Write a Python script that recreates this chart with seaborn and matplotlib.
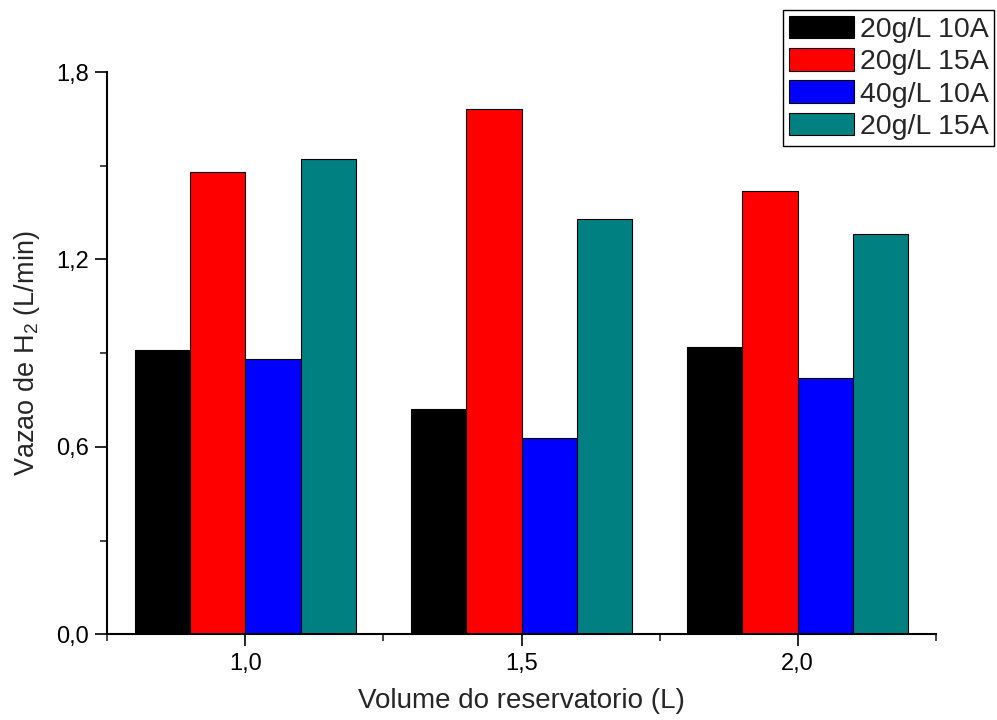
import matplotlib
matplotlib.use("Agg")
import matplotlib.pyplot as plt
import seaborn as sns
import pandas as pd
from matplotlib.ticker import FixedLocator

# ---- data ----
volumes = [1.0, 1.5, 2.0]
series_labels = ["20g/L 10A", "20g/L 15A", "40g/L 10A", "20g/L 15A"]
series_colors = ["#000000", "#ff0000", "#0000ff", "#008080"]
vals_s1 = [0.91, 0.72, 0.92]
vals_s2 = [1.48, 1.68, 1.42]
vals_s3 = [0.88, 0.63, 0.82]
vals_s4 = [1.52, 1.33, 1.28]
x_ticks = [1.0, 1.5, 2.0]
x_tick_labels = ["1,0", "1,5", "2,0"]
x_minor = [0.75, 1.25, 1.75, 2.25]
y_ticks = [0.0, 0.6, 1.2, 1.8]
y_tick_labels = ["0,0", "0,6", "1,2", "1,8"]
y_minor = [0.3, 0.9, 1.5]

sns.set_style("ticks")
plt.rcParams['font.family'] = ['Liberation Sans', 'DejaVu Sans']
plt.rcParams['mathtext.fontset'] = 'custom'
plt.rcParams['mathtext.rm'] = 'Liberation Sans'

hue_keys = [f"s{i}" for i in range(len(series_labels))]
all_vals = [vals_s1, vals_s2, vals_s3, vals_s4]
rows = []
for key, vals in zip(hue_keys, all_vals):
    for v, y in zip(volumes, vals):
        rows.append(dict(volume=v, value=y, series=key))
df = pd.DataFrame(rows)

fig = plt.figure(figsize=(9.97, 7.2), dpi=100)
ax = fig.add_axes([0.1076, 0.119, 0.831, 0.781])

sns.barplot(data=df, x="volume", y="value", hue="series", hue_order=hue_keys,
            palette=dict(zip(hue_keys, series_colors)), native_scale=True,
            width=0.8, edgecolor="black", linewidth=0.8, errorbar=None,
            saturation=1, ax=ax)

ax.set_xlim(0.75, 2.25)
ax.set_ylim(0, 1.8)
ax.xaxis.set_major_locator(FixedLocator(x_ticks))
ax.set_xticklabels(x_tick_labels)
ax.xaxis.set_minor_locator(FixedLocator(x_minor))
ax.yaxis.set_major_locator(FixedLocator(y_ticks))
ax.set_yticklabels(y_tick_labels)
ax.yaxis.set_minor_locator(FixedLocator(y_minor))

for s in ["top", "right"]:
    ax.spines[s].set_visible(False)
for s in ["left", "bottom"]:
    ax.spines[s].set_linewidth(1.5)
    ax.spines[s].set_color("black")

ax.tick_params(which="major", direction="out", length=8.5, width=1.2, labelsize=17, pad=5, colors="black")
ax.tick_params(which="minor", direction="out", length=5, width=1.2)

ax.set_xlabel("Volume do reservatorio (L)", fontsize=20, labelpad=9)
ax.set_ylabel(r"Vazao de H$_\mathregular{2}$ (L/min)", fontsize=19.5, labelpad=10)

leg = ax.get_legend()
if leg is not None:
    leg.remove()
handles, _ = ax.get_legend_handles_labels()
lg = ax.legend(handles[:len(series_labels)], series_labels, loc="upper left",
               bbox_to_anchor=(783 / 997, 1 - 10 / 720), bbox_transform=fig.transFigure,
               fontsize=20.5, frameon=True, fancybox=False, framealpha=1,
               edgecolor="black", borderpad=0.2, labelspacing=0.18,
               handlelength=2.3, handleheight=0.85, handletextpad=0.2,
               borderaxespad=0)
lg.get_frame().set_linewidth(1.0)

fig.savefig("out.png", dpi=100)
